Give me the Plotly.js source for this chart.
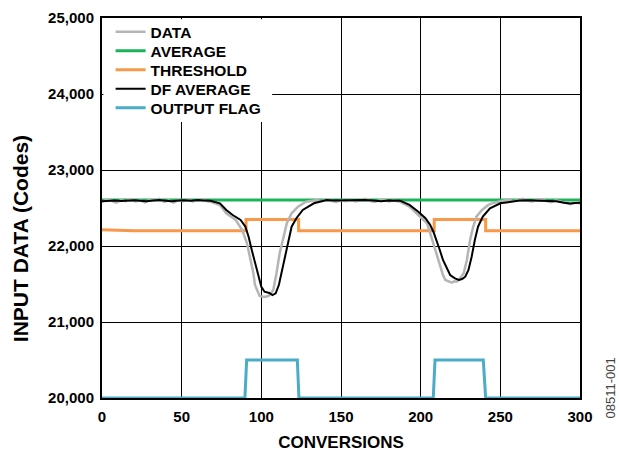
<!DOCTYPE html>
<html>
<head>
<meta charset="utf-8">
<script src="https://cdn.plot.ly/plotly-3.0.1.min.js"></script>
<style>html,body{margin:0;padding:0;background:#fff;}#chart{width:620px;height:455px;}</style>
</head>
<body>
<div id="chart"></div>
<script>
// ---- DATA ----
var dataX = [0,3,6,9,12,15,18,21,24,27,30,33,36,39,42,45,48,51,54,57,60,63,66,
  68,74,78,84,88,91,93,95,96,98,99,101,103,105,107.5,109.5,111.5,114,116,119,123,128,
  135,138,141,144,147,150,153,156,159,162,165,168,171,174,177,180,183,
  187,193,198.5,204,206,208,210,212,214,215.5,217.5,219.5,221,222.5,224,227,229,231,233,235,238.5,242.5,246,
  252,255,258,261,264,267,270,273,276,279,282,285,288,291,294,297,300];
var dataY = [22580,22610,22595,22570,22605,22590,22615,22585,22600,22575,22610,22595,22620,22580,22600,22570,22605,22590,22615,22585,22600,22610,22590,
  22583,22540,22430,22342,22211,22036,21859,21641,21487,21378,21340,21333,21333,21350,21421,21641,21904,22122,22299,22430,22518,22583,
  22605,22590,22615,22595,22580,22605,22590,22610,22585,22600,22620,22595,22580,22600,22610,22585,22600,
  22583,22517,22408,22299,22167,22036,21882,21750,21618,21553,21530,21518,21535,21530,21553,21641,21816,22079,22254,22386,22474,22540,22570,
  22595,22610,22590,22605,22620,22595,22585,22605,22615,22590,22575,22600,22580,22560,22550,22575,22560];

var avgX = [0,300];
var avgY = [22605,22605];

var thrX = [0,20,90.4,90.4,123.4,123.4,208.5,208.5,240.8,240.8,300];
var thrY = [22215,22200,22200,22350,22350,22200,22200,22350,22350,22200,22200];

var dfX = [0,4,8,12,16,20,24,28,32,36,40,44,48,52,56,60,64,
  68,74,78,82,87,90,92,94,96,98,100,102,105,107,109,111,113,115,117,119,122,126,133,141,
  145,150,155,160,165,170,175,180,184,
  187,193,198.5,203,206,208,210,212,214,216.5,218.5,221.5,224,226,228,230,232,234,236,239,243.5,250,256,
  262,266,270,275,280,285,290,294,297,300];
var dfY = [22590,22595,22600,22592,22598,22603,22596,22588,22600,22605,22597,22590,22598,22602,22595,22604,22600,
  22596,22562,22474,22408,22342,22254,22122,21947,21776,21596,21464,21399,21382,21355,21378,21487,21684,21859,22079,22254,22365,22474,22562,22605,
  22598,22602,22596,22600,22605,22598,22590,22600,22603,
  22596,22540,22451,22365,22276,22188,22079,21947,21816,21707,21618,21574,21553,21565,21596,21684,21859,22079,22254,22386,22496,22562,22583,
  22598,22603,22600,22605,22600,22590,22570,22560,22565,22570];

var flagX = [0,89.7,90.8,122.6,123.6,207.9,209,239.3,240.8,300];
var flagY = [20000,20000,20500,20500,20000,20000,20500,20500,20000,20000];

var xTicks = [0,50,100,150,200,250,300];
var yTicks = [20000,21000,22000,23000,24000,25000];

// ---- CHART ----
var FONT = 'Liberation Sans, Arial, Helvetica, sans-serif';
var traces = [
  {x: avgX, y: avgY, name: 'AVERAGE', mode: 'lines', line: {color: '#1db35b', width: 3}, legend: 'legend2'},
  {x: thrX, y: thrY, name: 'THRESHOLD', mode: 'lines', line: {color: '#f7984a', width: 3}, legend: 'legend3'},
  {x: dataX, y: dataY, name: 'DATA', mode: 'lines', line: {color: '#b5b5b5', width: 2.5}, legend: 'legend'},
  {x: dfX, y: dfY, name: 'DF AVERAGE', mode: 'lines', line: {color: '#000000', width: 2}, legend: 'legend4'},
  {x: flagX, y: flagY, name: 'OUTPUT FLAG', mode: 'lines', line: {color: '#4bacc6', width: 3}, legend: 'legend5', cliponaxis: false}
];

function leg(yc) {
  return {x: 0.018, y: yc, xanchor: 'left', yanchor: 'middle', bgcolor: 'rgba(0,0,0,0)', borderwidth: 0,
          itemwidth: 30, font: {family: FONT, size: 15.5, color: '#000', weight: 'bold'}};
}

var layout = {
  width: 620, height: 455,
  margin: {l: 102, r: 40, t: 18, b: 57},
  paper_bgcolor: '#fff', plot_bgcolor: '#fff',
  font: {family: FONT, color: '#000'},
  showlegend: true,
  legend: leg(0.963),
  legend2: leg(0.913),
  legend3: leg(0.863),
  legend4: leg(0.813),
  legend5: leg(0.763),
  shapes: [{type: 'rect', xref: 'paper', yref: 'paper', x0: 0.003, x1: 0.356, y0: 0.726, y1: 0.997,
            fillcolor: '#fff', line: {width: 0}, layer: 'above'}],
  xaxis: {
    range: [0, 300], tickvals: xTicks, ticktext: xTicks.map(String),
    showgrid: true, gridcolor: '#000', gridwidth: 1,
    showline: true, linecolor: '#000', linewidth: 2, mirror: true,
    ticks: '', zeroline: false, layer: 'below traces', ticklabelstandoff: 4,
    tickfont: {family: FONT, size: 15, weight: 'bold', color: '#000'},
    title: {text: 'CONVERSIONS', font: {family: FONT, size: 17, weight: 'bold', color: '#000'}, standoff: 12}
  },
  yaxis: {
    range: [20000, 25000], tickvals: yTicks, ticktext: yTicks.map(function(v){return v.toLocaleString('en-US');}),
    showgrid: true, gridcolor: '#000', gridwidth: 1,
    showline: true, linecolor: '#000', linewidth: 2, mirror: true,
    ticks: '', zeroline: false, layer: 'below traces', ticklabelstandoff: 3,
    tickfont: {family: FONT, size: 15, weight: 'bold', color: '#000'}
  },
  annotations: [{
    text: 'INPUT DATA (Codes)', xref: 'paper', yref: 'paper', x: -0.1715, y: 0.418,
    xanchor: 'center', yanchor: 'middle', textangle: -90, showarrow: false,
    font: {family: FONT, size: 21, weight: 'bold', color: '#000'}
  }, {
    text: '08511-001', xref: 'paper', yref: 'paper', x: 1, y: 0, xanchor: 'left', yanchor: 'middle',
    xshift: 20, yshift: 10, textangle: -90, showarrow: false,
    font: {family: FONT, size: 13, color: '#444'}
  }]
};

Plotly.newPlot('chart', traces, layout, {displayModeBar: false, staticPlot: true});
</script>
</body>
</html>
